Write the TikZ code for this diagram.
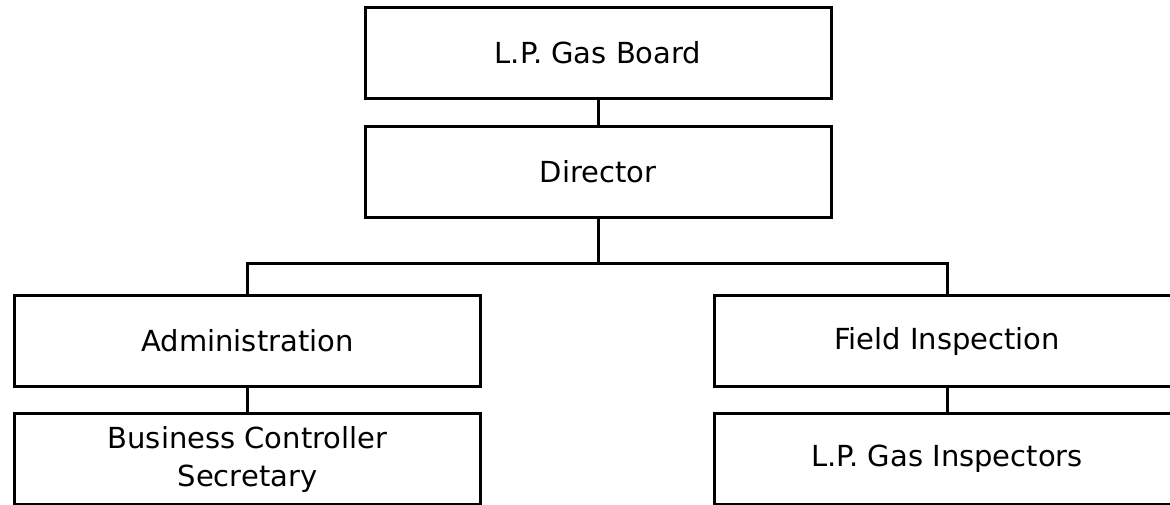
\documentclass[tikz,border=0pt]{standalone}
\usepackage{fontspec}
\setmainfont{DejaVu Sans}
\usetikzlibrary{positioning}
\tikzset{
	unit/.style={draw, rectangle, line width=3pt, inner sep=2pt, align=center, minimum width=466pt, minimum height=91pt, font=\fontsize{29}{38}\selectfont},
	link/.style={line width=3pt},
}

\begin{document}
\begin{tikzpicture}[x=1pt, y=-1pt]
				\useasboundingbox (0,0) rectangle (1170,505);
				
				\node (board) [unit] at (598,53) {L.P. Gas Board};
				\node (director) [unit] at (598,172) {Director};
				
				\node (admin) [unit] at (247.5,341) {Administration};
				\node (secretary) [unit] at (247.5,459) {Business Controller\\Secretary};
				
				\node (field) [unit] at (947,341) {Field Inspection};
				\node (inspectors) [unit] at (947,459) {L.P. Gas Inspectors};
				
				% branch point
				\coordinate (split) at (598,263);
				
				\begin{scope}[link, black]
					\draw (board) -- (director);
					\draw (director) -- (split);
					\draw (admin.north) |- (split) -| (field.north);
					\draw (admin) -- (secretary);
					\draw (field) -- (inspectors);
				\end{scope}
			\end{tikzpicture}
\end{document}
